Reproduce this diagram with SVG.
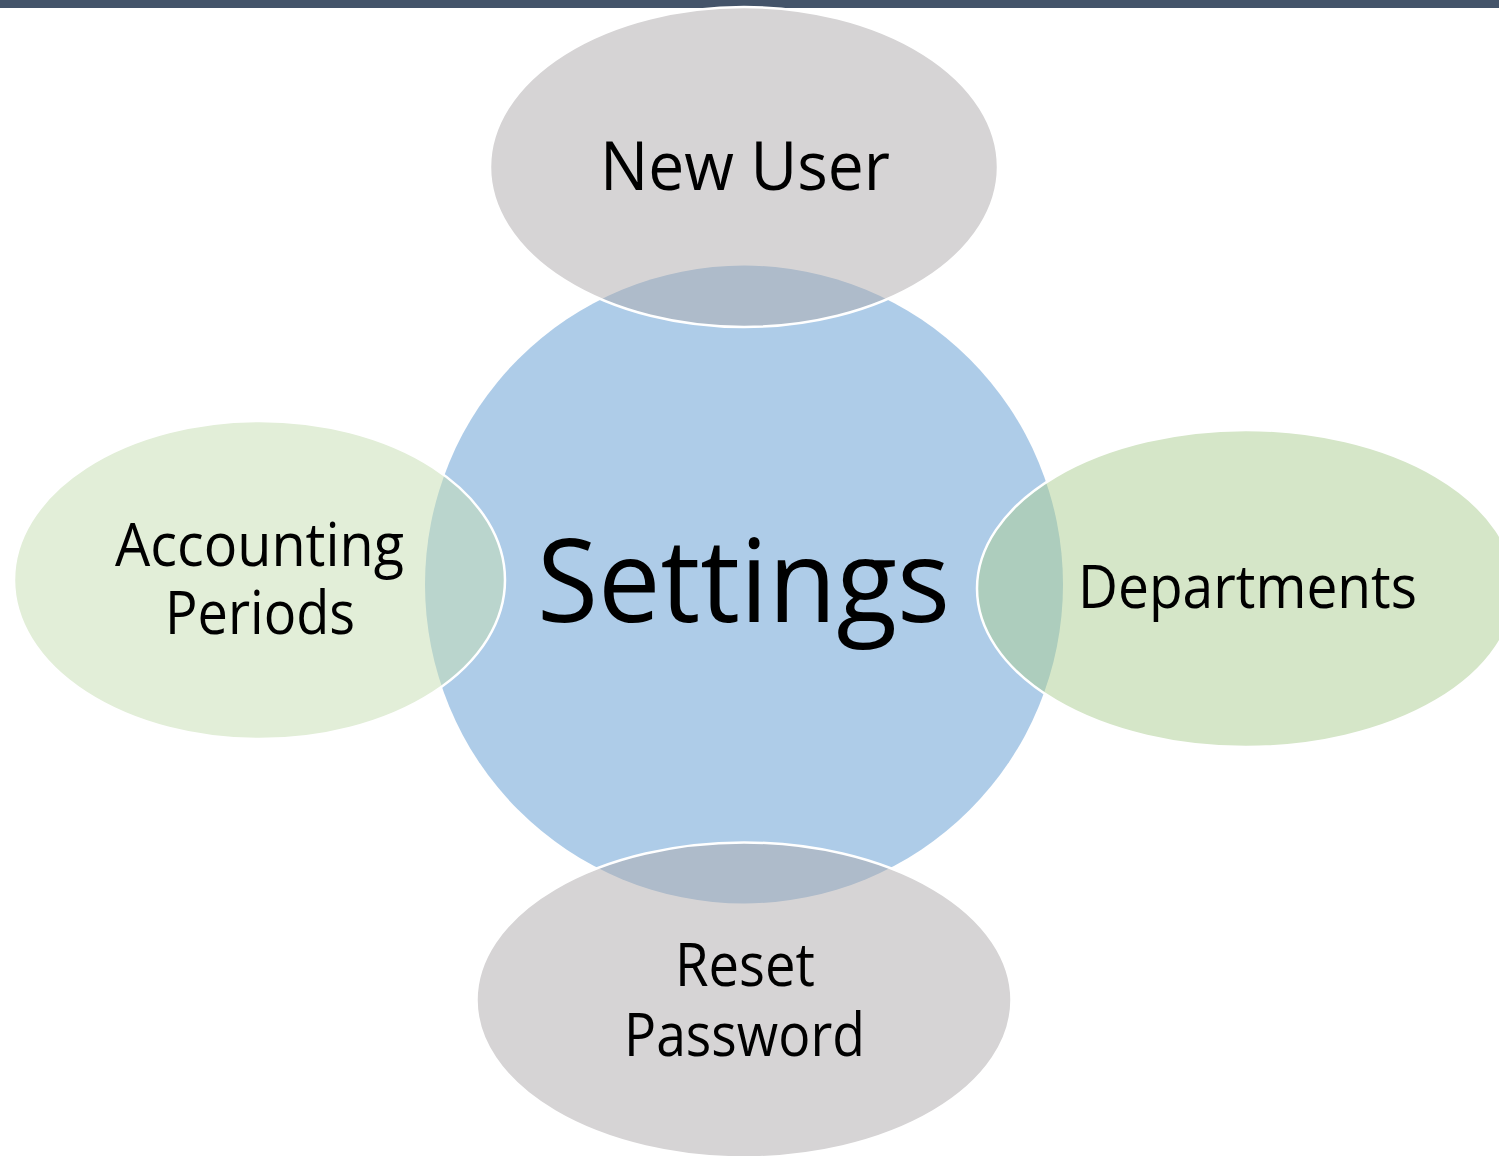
<svg xmlns="http://www.w3.org/2000/svg" width="1499" height="1156" viewBox="0 0 1499 1156">
  <style>
    .lbl { font-family: "Open Sans", "Noto Sans", "Liberation Sans", sans-serif; fill: #000000; text-anchor: middle; }
    .sat { stroke: #FFFFFF; stroke-width: 2.5; fill-opacity: 0.5; }
    .gray { fill: #ADA9AB; }
    .greenL { fill: #C5DDB1; }
    .greenR { fill: #ABCD91; }
  </style>
  <rect x="0" y="0" width="1499" height="8" fill="#44546A"/>
  <g id="settings">
    <circle cx="744" cy="584.5" r="319" fill="#AECCE8"/>
    <text class="lbl" x="743.5" y="622" font-size="115" textLength="413" lengthAdjust="spacingAndGlyphs">Settings</text>
  </g>
  <g id="new-user">
    <ellipse class="sat gray" cx="744" cy="167" rx="254" ry="160"/>
    <text class="lbl" x="745" y="190" font-size="67" textLength="290" lengthAdjust="spacingAndGlyphs">New User</text>
  </g>
  <g id="accounting-periods">
    <ellipse class="sat greenL" cx="259.5" cy="580" rx="245.5" ry="159"/>
    <text class="lbl" x="259.5" y="566" font-size="60" textLength="289" lengthAdjust="spacingAndGlyphs">Accounting</text>
    <text class="lbl" x="260" y="634" font-size="60" textLength="190" lengthAdjust="spacingAndGlyphs">Periods</text>
  </g>
  <g id="departments">
    <ellipse class="sat greenR" cx="1246" cy="588.5" rx="269" ry="158.5"/>
    <text class="lbl" x="1247.5" y="608" font-size="60" textLength="339" lengthAdjust="spacingAndGlyphs">Departments</text>
  </g>
  <g id="reset-password">
    <ellipse class="sat gray" cx="744" cy="1000" rx="267.5" ry="157.5"/>
    <text class="lbl" x="745" y="986" font-size="60" textLength="140" lengthAdjust="spacingAndGlyphs">Reset</text>
    <text class="lbl" x="744.5" y="1056" font-size="60" textLength="241" lengthAdjust="spacingAndGlyphs">Password</text>
  </g>
  <g id="connectors"/>
</svg>
